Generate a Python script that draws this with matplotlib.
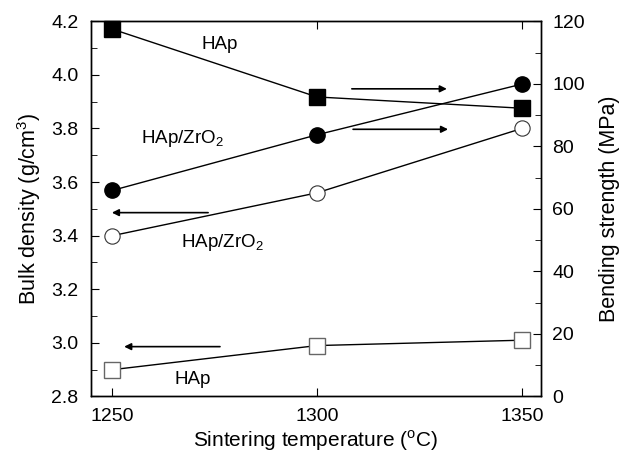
import matplotlib
matplotlib.use("Agg")
import matplotlib.pyplot as plt
from matplotlib.ticker import MultipleLocator

plt.rcParams['font.family'] = ['Liberation Sans', 'DejaVu Sans']

temps = [1250, 1300, 1350]
density_hap = [2.90, 2.99, 3.01]
density_hapzr = [3.40, 3.56, 3.80]
strength_hap = [117.5, 95.8, 92.2]
strength_hapzr = [65.9, 83.7, 99.9]

fig = plt.figure(figsize=(6.22, 4.55), dpi=100)
ax = fig.add_axes([0.1463, 0.1286, 0.7235, 0.8246])
ax2 = ax.twinx()

ax.plot(temps, density_hap, '-s', color='black', lw=1.0, ms=11.5,
        mfc='white', mec='#666666', mew=1.0, zorder=3)
ax.plot(temps, density_hapzr, '-o', color='black', lw=1.0, ms=11,
        mfc='white', mec='#333333', mew=0.8, zorder=3)
ax2.plot(temps, strength_hap, '-s', color='black', lw=1.0, ms=11.5,
         mfc='black', mec='black', zorder=3, clip_on=False)
ax2.plot(temps, strength_hapzr, '-o', color='black', lw=1.0, ms=11,
         mfc='black', mec='black', zorder=3)

ax.set_xlim(1244.8, 1354.7)
ax.set_ylim(2.8, 4.2)
ax2.set_ylim(0, 120)

ax.set_xticks(temps)
ax.yaxis.set_major_locator(MultipleLocator(0.2))
ax.yaxis.set_minor_locator(MultipleLocator(0.1))
ax.yaxis.set_major_formatter(matplotlib.ticker.FormatStrFormatter('%.1f'))
ax2.yaxis.set_major_locator(MultipleLocator(20))
ax2.yaxis.set_minor_locator(MultipleLocator(10))

ax.tick_params(axis='x', which='both', direction='in', top=True, length=6, labelsize=14, pad=8)
ax.tick_params(axis='y', which='major', direction='in', length=6, labelsize=14, pad=9)
ax.tick_params(axis='y', which='minor', direction='in', length=4)
ax2.tick_params(axis='y', which='major', direction='in', length=6, labelsize=14, pad=8)
ax2.tick_params(axis='y', which='minor', direction='in', length=4)

for a in (ax, ax2):
    for s in a.spines.values():
        s.set_linewidth(1.0)

ax.set_xlabel('Sintering temperature ($^\\mathregular{o}$C)', fontsize=15, labelpad=3)
ax.set_ylabel('Bulk density (g/cm$^\\mathregular{3}$)', fontsize=15.5, labelpad=6)
ax2.set_ylabel('Bending strength (MPa)', fontsize=15.5, labelpad=10)

arrow = dict(arrowstyle='-|>', lw=1.2, color='black', mutation_scale=10, shrinkA=0, shrinkB=0)
ax.annotate('', xy=(1331.7, 3.948), xytext=(1308.5, 3.948), arrowprops=arrow)
ax.annotate('', xy=(1332.0, 3.797), xytext=(1308.8, 3.797), arrowprops=arrow)
ax.annotate('', xy=(1249.9, 3.486), xytext=(1273.4, 3.486), arrowprops=arrow)
ax.annotate('', xy=(1252.9, 2.986), xytext=(1276.3, 2.986), arrowprops=arrow)

ax.text(1276.3, 4.112, 'HAp', fontsize=13.5, ha='center', va='center')
ax.text(1267.0, 3.761, 'HAp/ZrO$_\\mathregular{2}$', fontsize=13.5, ha='center', va='center')
ax.text(1277.0, 3.373, 'HAp/ZrO$_\\mathregular{2}$', fontsize=13.5, ha='center', va='center')
ax.text(1269.7, 2.862, 'HAp', fontsize=13.5, ha='center', va='center')

fig.savefig('out.png', dpi=100)
